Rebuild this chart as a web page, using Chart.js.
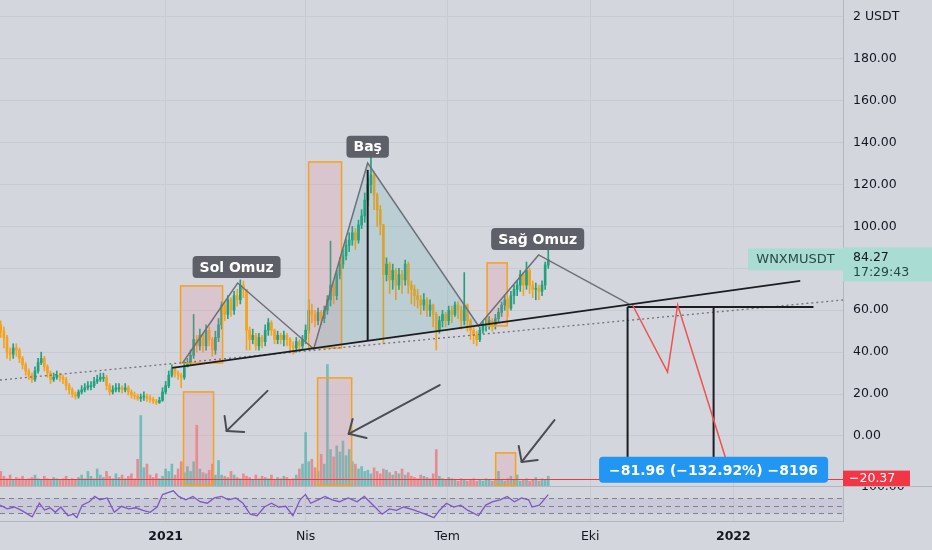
<!DOCTYPE html>
<html>
<head>
<meta charset="utf-8">
<script src="https://cdn.jsdelivr.net/npm/chart.js@4.4.1/dist/chart.umd.min.js"></script>
<style>
  html, body { margin: 0; padding: 0; background: #d3d6dd; width: 932px; height: 550px; overflow: hidden; }
  .pane { position: absolute; left: 0; width: 932px; }
</style>
</head>
<body>
<div class="pane" style="top:0;height:486px"><canvas id="mainChart"></canvas></div>
<div class="pane" style="top:486px;height:64px"><canvas id="rsiChart"></canvas></div>
<script>
// Zaman ekseni: gün numarası, 0 = 1 Ocak 2021, mumlar 2 günlük
const firstDay = -106;
const candleStep = 2;
const xMin = -106.5;
const xMax = 435.5;
const monthTicks = [0, 90, 181, 273, 365];
const monthNames = ['2021', 'Nis', 'Tem', 'Eki', '2022'];
const priceTicks = [0, 20, 40, 60, 80, 100, 120, 140, 160, 180, 200];

const firstOpen = 53;
const closes = [
  50, 47, 40, 39, 42, 41, 37, 34, 31, 29,
  27, 31, 35, 37, 33, 30, 27, 28, 29, 28,
  27, 24, 22, 20, 19, 21, 22, 23, 24, 24,
  26, 27, 28, 28, 24, 21, 22, 23, 23, 22,
  23, 21, 19.5, 19, 18, 18.5, 19, 18, 17.5, 16.5,
  16, 17, 21, 24, 29, 32, 30, 29, 28, 33,
  35, 38.5, 46, 43, 48, 43, 50.5, 46, 41, 47,
  53, 62.5, 58, 65, 60, 67, 65, 72, 70, 50.5,
  46, 48, 43, 47, 45, 50.5, 54, 50.5, 46, 48,
  46, 48, 46, 43, 42, 45, 43, 46, 50.5, 60,
  58, 55, 59, 56, 60, 65, 72, 67, 77, 82,
  86, 91, 93.5, 97, 93.5, 100.7, 105, 112.6, 120, 124.5,
  115, 108, 100.7, 77, 82, 74.5, 79, 72, 77, 74.5,
  82, 72, 70, 67, 65, 62.5, 65, 60, 62.5, 58,
  50.5, 55, 58, 55, 60, 58, 62.5, 60, 55, 62.5,
  55, 50.5, 48, 46, 50.5, 53, 53, 55, 53, 56,
  59, 62.5, 65, 61, 67, 70, 72, 77, 72, 79,
  72, 70, 70.5, 69, 72, 81.6, 84.27
];
const highs = [
  55, 52, 48, 42, 44, 44, 42, 38, 35, 32,
  30, 33, 37, 40, 38, 34, 31, 30, 31, 30,
  29, 28, 25, 23, 21, 22, 24, 25, 26, 26,
  28, 29, 30, 30, 29, 25, 24, 25, 25, 24,
  25, 24, 22, 21, 20, 20, 21, 20, 19.5, 18.5,
  17.5, 18.5, 23, 26, 31, 34, 33, 31, 30, 35,
  37, 41, 58, 48, 51, 49, 53, 52, 47, 50,
  56, 64, 64, 67, 66, 69, 70, 74.5, 74, 70,
  52, 51, 49, 49, 48, 53, 56, 55, 51, 50,
  49, 50, 49, 47, 45, 47, 46, 48, 53, 65,
  63, 60, 61, 60, 62, 67, 93, 74, 79, 85,
  89, 94, 97, 100, 99, 103, 108, 116, 123, 133,
  126, 116, 110, 101, 85, 83, 82, 80, 80, 79,
  84, 83, 74, 72, 70, 67, 68, 66, 65, 63,
  59, 57, 60, 59, 62, 62, 64, 64, 62, 78,
  63, 56, 52, 50, 52, 55, 56, 57, 56, 58,
  61, 64, 67, 66, 69, 72, 74, 79, 78, 83,
  80, 74, 73, 72, 74, 83, 89
];
const lows = [
  47, 42, 37, 36, 37, 38, 35, 32, 29, 27,
  25.5, 26, 30, 34, 31, 28, 25, 26, 27, 26,
  25, 22, 20, 18.5, 17.5, 18, 20, 21, 22, 22,
  23, 25, 26, 26, 22, 19.5, 20, 21, 21, 20.5,
  21, 19.5, 18, 17.5, 17, 16.5, 17, 16.5, 16, 15.5,
  15, 15.5, 16.5, 20, 23, 28, 28, 27, 23, 27,
  33, 34, 37, 40, 41, 40, 41, 43, 38, 39,
  45, 51, 55, 56, 57, 58, 62, 63, 66, 41,
  41, 44, 41, 41, 42, 43, 48, 48, 44, 44,
  44, 43, 43, 40, 39, 40, 41, 41, 44, 49,
  54, 52, 53, 53, 54, 58, 62, 63, 65, 75,
  80, 84, 88, 91, 89, 92, 99, 102, 110, 116,
  108, 100, 96, 44, 74, 68, 70, 65, 70, 68,
  72, 68, 63, 62, 61, 58, 60, 57, 57, 52,
  41, 49, 52, 52, 53, 54, 57, 56, 51, 53,
  50, 46, 44, 43, 45, 49, 50, 51, 50, 51,
  54, 57, 60, 57, 60, 63, 67, 69, 67, 70,
  68, 66, 65, 65, 67, 70, 80
];
const volumes = [
  12, 8, 6, 9, 5, 7, 6, 8, 5, 6,
  7, 9, 6, 5, 8, 6, 5, 7, 6, 5,
  6, 8, 5, 6, 5, 7, 9, 6, 12, 8,
  6, 14, 9, 7, 12, 8, 6, 10, 7, 9,
  6, 8, 10, 6, 22, 58, 15, 18, 9, 7,
  10, 6, 8, 14, 12, 18, 9, 14, 20, 11,
  16, 12, 20, 50, 14, 11, 10, 13, 18, 9,
  21, 9, 8, 7, 12, 9, 7, 6, 10, 8,
  7, 5, 9, 6, 8, 7, 6, 9, 5, 7,
  6, 8, 7, 5, 6, 9, 14, 18, 44, 20,
  22, 15, 12, 26, 18, 100, 30, 24, 33, 28,
  37, 25, 30, 20, 18, 14, 16, 12, 13, 10,
  15, 12, 10, 14, 13, 11, 9, 12, 10, 14,
  9, 11, 8, 7, 6, 9, 8, 7, 6, 10,
  30, 8, 6, 5, 7, 6, 5, 4, 6, 5,
  4, 5, 6, 4, 5, 4, 6, 5, 4, 5,
  12, 5, 4, 6, 8, 5, 9, 4, 5, 6,
  4, 5, 7, 4, 6, 5, 8
];

// RSI (14)
const rsiDays = [
  -106.5, -101.9, -97.3, -92.7, -85.8, -81.2, -77.8, -74.3, -70.9, -67.4,
  -62.8, -59.4, -57.1, -53.7, -49.1, -45.6, -42.2, -37.6, -33, -28.4,
  -23.8, -19.2, -14.6, -10, -5.5, -2, 1.5, 4.9, 8.4, 12.9,
  17.5, 22.1, 26.7, 31.3, 35.9, 40.5, 45.1, 49.7, 54.3, 58.8,
  63.5, 68, 72.6, 77.2, 81.8, 86.4, 89.9, 93.3, 97.9, 102.5,
  107.1, 111.7, 117.4, 123.1, 127.7, 134.6, 139.2, 143.8, 148.4, 153,
  159.9, 166.8, 172.5, 176, 180.5, 185.2, 189.7, 194.4, 201.2, 205.8,
  210.4, 215, 219.6, 224.2, 228.8, 233.4, 235.6, 240.3, 246
];
const rsiValues = [
  52, 42, 47, 38, 21, 57, 39, 45, 33, 47,
  24, 28, 19, 52, 61, 75, 66, 71, 33, 49,
  42, 45, 38, 33, 47, 80, 85, 90, 75, 66,
  75, 61, 57, 71, 75, 66, 71, 57, 28, 24,
  47, 57, 47, 49, 24, 66, 80, 57, 66, 75,
  66, 61, 71, 61, 75, 47, 28, 42, 38, 47,
  39, 28, 19, 38, 57, 47, 52, 38, 24, 52,
  61, 66, 75, 61, 71, 66, 47, 52, 80
];

// Çizimler (gün, fiyat)
const dottedTrend = [[-106.5, 26.7], [435.5, 64.9]];
const neckline = [[4.2, 32.5], [408, 74]];
const targetLevel = [[297, 61.6], [416.5, 61.6]];
const targetVerticals = [[[297, 61.6], [297, -10.5]], [[352.3, 61.6], [352.3, -10.5]]];
const projection = [[300.2, 62.5], [322.7, 30.5], [329.2, 62.5], [360, -10.5]];
const patternLine = [[10.9, 34.8], [46.3, 73], [95.2, 41.5], [129.9, 130.3], [201.2, 52.5], [239.8, 86.4], [297.7, 63]];
const headTriangle = [[95.2, 41.5], [129.9, 130.3], [201.2, 52.5]];
const headHeight = [[129.9, 127], [129.9, 45.8]];
const zoneBoxes = [
  [9.6, 36.6, 71.6, 34.8], [91.9, 113.1, 130.8, 42], [206.7, 219.6, 82.6, 52.5],
  [11.5, 30.8, 21, -23.4], [97.7, 119.6, 27.7, -23.4], [212.2, 225, -8.1, -23.4]
];
const arrows = [
  { tail: [65.5, 21.5], tip: [39.2, 2.4], heads: [[37.9, 9.5], [50.5, 1.9]] },
  { tail: [176.2, 24.3], tip: [117.7, 1.0], heads: [[120.2, 8.1], [129.2, -1.0]] },
  { tail: [250, 7.6], tip: [228.9, -12.4], heads: [[227, -4.8], [239.2, -11.5]] }
];
const patternLabels = [
  { text: 'Sol Omuz', at: [45.6, 80.7] },
  { text: 'Baş', at: [129.9, 138] },
  { text: 'Sağ Omuz', at: [239.2, 94] }
];
const measureText = '\u221281.96 (\u2212132.92%) \u22128196';
const measureAt = [352.3, -16.2];
const lastPrice = 84.27;
const countdown = '17:29:43';
const lowLine = -20.37;
const rsiLevels = [70, 50, 30];

const upColor = '#22a17f';
const downColor = '#f5a21e';
const gridColor = '#c8cbd3';
const textColor = '#131722';
const axisFont = { family: 'DejaVu Sans', size: 12.5 };

const candleDays = closes.map((c, k) => firstDay + candleStep * k);
const opens = closes.map((c, k) => k === 0 ? firstOpen : closes[k - 1]);
const isUp = closes.map((c, k) => c >= opens[k]);
const candleColors = isUp.map(u => u ? upColor : downColor);
const volColors = isUp.map(u => u ? 'rgba(38,166,154,0.55)' : 'rgba(239,83,80,0.55)');

const bodyData = closes.map((c, k) => ({ x: candleDays[k], y: [Math.min(c, opens[k]), Math.max(c, opens[k])] }));
const wickData = closes.map((c, k) => ({ x: candleDays[k], y: [lows[k], highs[k]] }));
const volData = volumes.map((v, k) => ({ x: candleDays[k], y: v }));

function roundRect(ctx, x, y, w, h, r) {
  ctx.beginPath();
  ctx.moveTo(x + r, y);
  ctx.arcTo(x + w, y, x + w, y + h, r);
  ctx.arcTo(x + w, y + h, x, y + h, r);
  ctx.arcTo(x, y + h, x, y, r);
  ctx.arcTo(x, y, x + w, y, r);
  ctx.closePath();
}

const drawingsPlugin = {
  id: 'drawings',
  afterDatasetsDraw(chart) {
    const { ctx, scales: { x, y } } = chart;
    const px = d => x.getPixelForValue(d);
    const py = p => y.getPixelForValue(p);
    const path = (pts) => {
      ctx.beginPath();
      pts.forEach((p, i) => i ? ctx.lineTo(px(p[0]), py(p[1])) : ctx.moveTo(px(p[0]), py(p[1])));
    };
    ctx.save();

    // kutular
    zoneBoxes.forEach(b => {
      const x0 = px(b[0]), x1 = px(b[1]), y0 = py(b[2]), y1 = py(b[3]);
      ctx.fillStyle = 'rgba(242,120,140,0.18)';
      ctx.fillRect(x0, y0, x1 - x0, y1 - y0);
      ctx.strokeStyle = '#f5a21e';
      ctx.lineWidth = 1.5;
      ctx.strokeRect(x0, y0, x1 - x0, y1 - y0);
    });

    // baş üçgeni
    path(headTriangle);
    ctx.closePath();
    ctx.fillStyle = 'rgba(60,170,160,0.16)';
    ctx.fill();

    // noktalı trend
    ctx.setLineDash([2, 3]);
    ctx.strokeStyle = '#6f727b';
    ctx.lineWidth = 1.3;
    path(dottedTrend);
    ctx.stroke();
    ctx.setLineDash([]);

    // omuz-baş-omuz çizgisi
    ctx.strokeStyle = '#6d7079';
    ctx.lineWidth = 1.5;
    path(patternLine);
    ctx.stroke();

    // boyun çizgisi ve hedef
    ctx.strokeStyle = '#1c1d21';
    ctx.lineWidth = 1.6;
    path(neckline);
    ctx.stroke();
    ctx.lineWidth = 2;
    path(targetLevel);
    ctx.stroke();
    targetVerticals.forEach(v => { path(v); ctx.stroke(); });
    path(headHeight);
    ctx.stroke();

    // kırmızı projeksiyon
    ctx.strokeStyle = '#f0524f';
    ctx.lineWidth = 1.5;
    path(projection);
    ctx.stroke();

    // oklar
    ctx.strokeStyle = '#4b4d54';
    ctx.lineWidth = 2;
    ctx.lineCap = 'round';
    arrows.forEach(a => {
      path([a.tail, a.tip]);
      ctx.stroke();
      a.heads.forEach(h => { path([a.tip, h]); ctx.stroke(); });
    });

    // -20.37 çizgisi
    ctx.strokeStyle = '#f23645';
    ctx.lineWidth = 1;
    ctx.beginPath();
    ctx.moveTo(chart.chartArea.left, Math.round(py(lowLine)) + 0.5);
    ctx.lineTo(chart.chartArea.right, Math.round(py(lowLine)) + 0.5);
    ctx.stroke();
    ctx.restore();
  },
  afterDraw(chart) {
    const { ctx, scales: { x, y }, chartArea } = chart;
    const px = d => x.getPixelForValue(d);
    const py = p => y.getPixelForValue(p);
    ctx.save();
    ctx.textBaseline = 'middle';

    // formasyon etiketleri
    ctx.font = 'bold 14px "DejaVu Sans"';
    ctx.textAlign = 'center';
    patternLabels.forEach(l => {
      const w = ctx.measureText(l.text).width + 14;
      const cx = px(l.at[0]), cy = py(l.at[1]);
      roundRect(ctx, cx - w / 2, cy - 11, w, 22, 4);
      ctx.fillStyle = '#5d6069';
      ctx.fill();
      ctx.fillStyle = '#ffffff';
      ctx.fillText(l.text, cx, cy + 1);
    });

    // ölçüm etiketi
    ctx.font = 'bold 14px "DejaVu Sans"';
    const mw = ctx.measureText(measureText).width + 20;
    const mx = px(measureAt[0]), my = py(measureAt[1]);
    roundRect(ctx, mx - mw / 2, my - 13, mw, 26, 4);
    ctx.fillStyle = '#2196f3';
    ctx.fill();
    ctx.fillStyle = '#ffffff';
    ctx.fillText(measureText, mx, my + 1);

    // son fiyat etiketi
    const ly = py(lastPrice);
    ctx.fillStyle = '#a9dcd3';
    ctx.fillRect(chartArea.right - 95, ly - 11, 95, 22);
    ctx.fillRect(chartArea.right, ly - 12, 89, 34);
    ctx.font = '13px "DejaVu Sans"';
    ctx.fillStyle = '#2c4a46';
    ctx.fillText('WNXMUSDT', chartArea.right - 47.5, ly);
    ctx.textAlign = 'left';
    ctx.fillStyle = textColor;
    ctx.font = '12.5px "DejaVu Sans"';
    ctx.fillText(lastPrice.toFixed(2), chartArea.right + 10, ly - 2);
    ctx.fillStyle = '#1f4a44';
    ctx.fillText(countdown, chartArea.right + 10, ly + 13);

    // -20.37 etiketi
    const ry = py(lowLine);
    ctx.fillStyle = '#f23645';
    ctx.fillRect(chartArea.right, ry - 8, 67, 16);
    ctx.fillStyle = '#ffffff';
    ctx.fillText('\u2212' + Math.abs(lowLine).toFixed(2), chartArea.right + 6, ry);
    ctx.restore();
  }
};

new Chart(document.getElementById('mainChart'), {
  type: 'bar',
  data: {
    datasets: [
      { label: 'Hacim', data: volData, yAxisID: 'yv', backgroundColor: volColors, barThickness: 2, grouped: false, order: 3 },
      { label: 'Fitil', data: wickData, yAxisID: 'y', backgroundColor: candleColors, barThickness: 1, grouped: false, order: 2 },
      { label: 'Gövde', data: bodyData, yAxisID: 'y', backgroundColor: candleColors, barThickness: 2, minBarLength: 1, grouped: false, order: 1 }
    ]
  },
  options: {
    responsive: true,
    maintainAspectRatio: false,
    animation: false,
    layout: { padding: 0 },
    plugins: { legend: { display: false }, tooltip: { enabled: false } },
    scales: {
      x: {
        type: 'linear', min: xMin, max: xMax, offset: false,
        afterBuildTicks: s => { s.ticks = monthTicks.map(v => ({ value: v })); },
        ticks: { display: false },
        grid: { color: gridColor, drawTicks: false, offset: false },
        border: { display: false },
        afterFit: s => { s.height = 0; s.paddingLeft = 0; s.paddingRight = 0; }
      },
      y: {
        position: 'right', min: -23.9, max: 208.1,
        afterBuildTicks: s => { s.ticks = priceTicks.map(v => ({ value: v })); },
        ticks: {
          color: textColor, font: axisFont, padding: 10,
          callback: v => v === 200 ? '2 USDT' : v.toFixed(2)
        },
        grid: { color: gridColor, drawTicks: false },
        border: { color: '#b4b7bf' },
        afterFit: s => { s.width = 89; s.paddingTop = 0; s.paddingBottom = 0; }
      },
      yv: { display: false, min: 0, max: 400 }
    }
  },
  plugins: [drawingsPlugin]
});

const rsiBandPlugin = {
  id: 'rsiBand',
  beforeDatasetsDraw(chart) {
    const { ctx, chartArea, scales: { y } } = chart;
    ctx.save();
    ctx.fillStyle = 'rgba(126,87,194,0.10)';
    ctx.fillRect(chartArea.left, y.getPixelForValue(70), chartArea.right - chartArea.left, y.getPixelForValue(30) - y.getPixelForValue(70));
    ctx.strokeStyle = '#80838c';
    ctx.lineWidth = 1;
    ctx.setLineDash([5, 4]);
    rsiLevels.forEach(v => {
      const yy = Math.round(y.getPixelForValue(v)) + 0.5;
      ctx.beginPath();
      ctx.moveTo(chartArea.left, yy);
      ctx.lineTo(chartArea.right, yy);
      ctx.stroke();
    });
    ctx.setLineDash([]);
    ctx.strokeStyle = '#b4b7bf';
    ctx.beginPath();
    ctx.moveTo(0, 0.5);
    ctx.lineTo(chart.width, 0.5);
    ctx.stroke();
    ctx.restore();
  }
};

new Chart(document.getElementById('rsiChart'), {
  type: 'line',
  data: {
    datasets: [{
      label: 'RSI',
      data: rsiDays.map((d, i) => ({ x: d, y: rsiValues[i] })),
      borderColor: '#7e57c2', borderWidth: 1.3, pointRadius: 0, tension: 0
    }]
  },
  options: {
    responsive: true,
    maintainAspectRatio: false,
    animation: false,
    layout: { padding: { top: 1 } },
    plugins: { legend: { display: false }, tooltip: { enabled: false } },
    scales: {
      x: {
        type: 'linear', min: xMin, max: xMax,
        afterBuildTicks: s => { s.ticks = monthTicks.map(v => ({ value: v })); },
        ticks: {
          autoSkip: false, maxRotation: 0, padding: 8, color: textColor,
          font: c => ({ family: 'DejaVu Sans', size: 12.5, weight: (c.tick && (c.tick.value === 0 || c.tick.value === 365)) ? 'bold' : 'normal' }),
          callback: v => monthNames[monthTicks.indexOf(v)]
        },
        grid: { color: gridColor, drawTicks: false, offset: false },
        border: { color: '#b4b7bf' },
        afterFit: s => { s.height = 29; s.paddingLeft = 0; s.paddingRight = 0; }
      },
      y: {
        position: 'right', min: 10, max: 100,
        afterBuildTicks: s => { s.ticks = [{ value: 100 }]; },
        ticks: { color: textColor, font: axisFont, padding: 10, callback: () => '100.00' },
        grid: { display: false },
        border: { color: '#b4b7bf' },
        afterFit: s => { s.width = 89; s.paddingTop = 0; s.paddingBottom = 0; }
      }
    }
  },
  plugins: [rsiBandPlugin]
});
</script>
</body>
</html>
